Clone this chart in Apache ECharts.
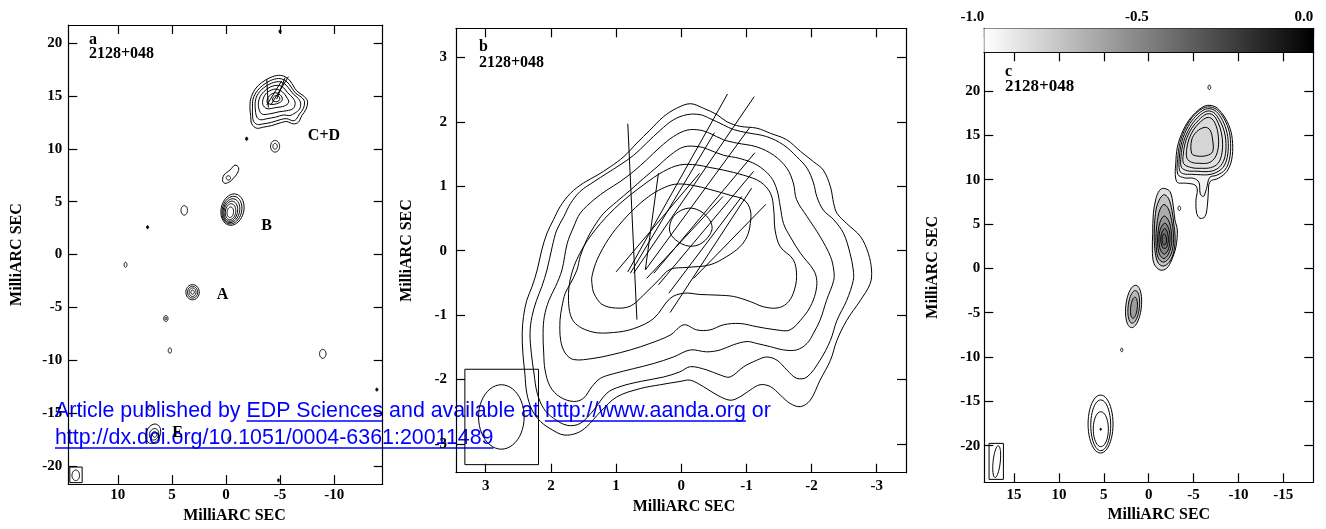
<!DOCTYPE html>
<html><head><meta charset="utf-8">
<script src="https://cdn.jsdelivr.net/npm/echarts@6/dist/echarts.min.js"></script>
<style>html,body{margin:0;padding:0;background:#fff}#c{width:1326px;height:529px}</style>
</head><body><div id="c"></div>
<script>
// ---------------- DATA (data units: milliarcsec) ----------------
const ticksA_x = [10, 5, 0, -5, -10];
const ticksA_y = [20, 15, 10, 5, 0, -5, -10, -15, -20];
const ticksB_x = [3, 2, 1, 0, -1, -2, -3];
const ticksB_y = [3, 2, 1, 0, -1, -2, -3];
const ticksC_x = [15, 10, 5, 0, -5, -10, -15];
const ticksC_y = [20, 15, 10, 5, 0, -5, -10, -15, -20];
const colorbarTicks = [-1, -0.5, 0];
const colorbarRange = [[-1, 0, 0, 1]];

// Panel a: irregular contours (C+D bundle and knot near 7 mas)
const contoursA = [
  [[-2.22,13.76],[-2.28,14.70],[-2.69,15.64],[-3.30,16.26],[-4.07,16.73],[-4.85,16.95],[-5.46,16.82],[-5.93,16.42],[-6.54,15.48],[-7.16,15.01],[-7.53,14.54],[-7.41,13.76],[-7.01,13.14],[-6.70,12.52],[-6.23,12.36],[-5.62,12.58],[-5.00,12.45],[-4.23,12.20],[-3.46,12.05],[-2.84,11.95],[-2.38,12.36],[-2.28,13.14]],
  [[-2.45,13.8],[-2.5,14.7],[-2.9,15.5],[-3.4,16.0],[-4.1,16.45],[-4.85,16.65],[-5.4,16.5],[-5.85,16.1],[-6.4,15.3],[-6.95,14.9],[-7.25,14.5],[-7.15,13.8],[-6.8,13.3],[-6.5,12.8],[-6.2,12.65],[-5.6,12.85],[-5.0,12.75],[-4.2,12.5],[-3.4,12.35],[-2.9,12.3],[-2.55,12.6],[-2.45,13.2]],
  [[-2.7,13.9],[-2.75,14.7],[-3.1,15.4],[-3.6,15.85],[-4.2,16.2],[-4.85,16.35],[-5.35,16.2],[-5.75,15.8],[-6.25,15.15],[-6.7,14.75],[-6.9,14.3],[-6.8,13.75],[-6.4,13.4],[-5.9,13.15],[-5.3,13.2],[-4.6,13.0],[-3.8,12.85],[-3.2,12.75],[-2.85,13.0]],
  [[-3.0,14.0],[-3.1,14.8],[-3.5,15.4],[-4.1,15.85],[-4.8,16.0],[-5.3,15.8],[-5.7,15.3],[-6.2,14.8],[-6.4,14.3],[-6.2,13.8],[-5.6,13.6],[-4.9,13.5],[-4.0,13.3],[-3.3,13.3]],
  [[-3.4,14.2],[-3.5,14.9],[-3.9,15.4],[-4.6,15.65],[-5.2,15.4],[-5.6,14.9],[-5.8,14.4],[-5.4,14.05],[-4.6,13.9],[-3.8,13.8]],
  [[-3.8,14.4],[-4.0,15.0],[-4.6,15.3],[-5.1,15.0],[-5.2,14.6],[-4.8,14.3],[-4.2,14.2]],
  [[-4.3,14.6],[-4.5,15.0],[-4.9,14.95],[-4.95,14.6],[-4.6,14.45]],
  [[0.31,6.96],[0.19,7.52],[-0.37,7.99],[-0.83,8.46],[-1.17,8.21],[-1.05,7.68],[-0.68,7.21],[-0.37,6.90],[0.09,6.74]]
];
// Panel a: compact components [centreX, centreY, semiX, semiY, tiltDeg]
const blobsA = [
  [-4.54,10.24,0.42,0.55,0],[-4.54,10.24,0.2,0.28,0],
  [-0.22,7.25,0.2,0.2,0],
  [-0.6,4.25,1.05,1.5,12],[-0.55,4.2,0.9,1.32,12],[-0.5,4.15,0.76,1.14,12],[-0.45,4.1,0.62,0.96,10],[-0.42,4.05,0.48,0.76,8],[-0.4,4.0,0.3,0.5,6],
  [3.86,4.18,0.3,0.45,0],
  [9.29,-0.97,0.13,0.24,0],
  [3.09,-3.56,0.62,0.72,0],[3.09,-3.56,0.47,0.56,0],[3.09,-3.56,0.32,0.4,0],[3.09,-3.56,0.16,0.2,0],
  [5.56,-6.05,0.2,0.28,0],[5.56,-6.05,0.08,0.12,0],
  [5.19,-9.08,0.15,0.25,0],
  [-8.95,-9.39,0.3,0.42,0],
  [7.04,-14.48,0.2,0.25,0],
  [6.73,-16.95,0.65,0.95,20],[6.65,-17.0,0.42,0.55,15],[6.6,-17.0,0.2,0.28,0],
  [-0.31,-17.45,0.12,0.2,0]
];
const dotsA = [[-5.0,21.1,0.1,0.15,0],[-1.91,10.95,0.1,0.15,0],[7.25,2.59,0.1,0.14,0],[-13.95,-12.77,0.1,0.14,0],[-4.85,-21.35,0.08,0.14,0]];
const vectorsA = [[-3.77,16.57,-3.92,13.92],[-5.77,16.82,-4.14,14.14],[-5.15,16.42,-3.77,14.14],[-5.46,16.73,-4.69,14.70]];
const beamBoxA = [[14.44,-20.1,13.30,-21.57]];
const beamA = [[13.89,-20.88,0.35,0.5,0]];
const labelsA = [["C+D",-9.06,11.18],["B",-3.76,2.76],["A",0.32,-3.79],["E",4.48,-16.89]];

// Panel b: contours, outermost first
const contoursB = [
  [[-0.14,2.28],[-0.34,2.21],[-0.55,2.11],[-0.70,2.00],[-0.90,1.93],[-1.16,1.90],[-1.37,1.82],[-1.62,1.72],[-1.83,1.54],[-2.03,1.38],[-2.18,1.25],[-2.29,0.99],[-2.34,0.73],[-2.39,0.58],[-2.54,0.42],[-2.75,0.22],[-2.87,-0.04],[-2.92,-0.30],[-2.90,-0.51],[-2.75,-0.77],[-2.54,-1.08],[-2.39,-1.39],[-2.29,-1.70],[-2.13,-2.01],[-1.98,-2.32],[-1.83,-2.42],[-1.67,-2.37],[-1.52,-2.24],[-1.37,-2.11],[-1.21,-2.08],[-1.06,-2.16],[-0.90,-2.27],[-0.75,-2.32],[-0.55,-2.24],[-0.34,-2.11],[-0.14,-2.01],[0.02,-2.03],[0.32,-2.08],[0.63,-2.14],[0.99,-2.27],[1.24,-2.50],[1.45,-2.73],[1.60,-2.83],[1.80,-2.86],[1.98,-2.78],[2.16,-2.65],[2.29,-2.47],[2.37,-2.21],[2.40,-1.90],[2.43,-1.59],[2.44,-1.28],[2.42,-1.02],[2.37,-0.77],[2.29,-0.56],[2.21,-0.30],[2.14,0.01],[2.06,0.27],[1.96,0.48],[1.86,0.68],[1.70,0.89],[1.50,1.05],[1.29,1.17],[1.09,1.30],[0.88,1.46],[0.68,1.67],[0.48,1.87],[0.27,2.08],[0.07,2.21]],
  [[-0.09,2.11],[-0.29,2.11],[-0.44,2.05],[-0.65,1.95],[-0.80,1.88],[-1.01,1.83],[-1.31,1.77],[-1.57,1.64],[-1.77,1.46],[-1.93,1.28],[-2.03,1.05],[-2.08,0.84],[-2.18,0.63],[-2.34,0.48],[-2.49,0.27],[-2.59,-0.04],[-2.64,-0.30],[-2.64,-0.46],[-2.54,-0.77],[-2.39,-1.08],[-2.29,-1.39],[-2.13,-1.70],[-1.93,-1.96],[-1.77,-1.98],[-1.62,-1.85],[-1.47,-1.70],[-1.31,-1.65],[-1.16,-1.70],[-0.96,-1.80],[-0.75,-1.96],[-0.60,-1.93],[-0.39,-1.85],[-0.14,-1.80],[0.02,-1.88],[0.27,-1.96],[0.63,-2.03],[0.94,-2.11],[1.14,-2.21],[1.34,-2.47],[1.55,-2.68],[1.75,-2.71],[1.96,-2.60],[2.11,-2.45],[2.21,-2.21],[2.26,-1.90],[2.30,-1.59],[2.32,-1.28],[2.29,-1.02],[2.22,-0.77],[2.14,-0.56],[2.06,-0.30],[1.98,0.06],[1.91,0.32],[1.80,0.53],[1.70,0.73],[1.55,0.92],[1.34,1.07],[1.14,1.20],[0.94,1.33],[0.73,1.48],[0.53,1.67],[0.32,1.87],[0.12,2.03]],
  [[-0.09,1.87],[-0.29,1.87],[-0.44,1.82],[-0.65,1.72],[-0.85,1.67],[-1.16,1.61],[-1.42,1.48],[-1.62,1.28],[-1.72,1.05],[-1.77,0.79],[-1.93,0.53],[-2.13,0.22],[-2.29,-0.09],[-2.34,-0.30],[-2.34,-0.46],[-2.23,-0.77],[-2.13,-1.08],[-2.03,-1.28],[-1.93,-1.44],[-1.77,-1.54],[-1.57,-1.54],[-1.37,-1.49],[-1.16,-1.44],[-1.01,-1.41],[-0.80,-1.46],[-0.60,-1.54],[-0.39,-1.57],[-0.14,-1.54],[0.12,-1.65],[0.42,-1.75],[0.73,-1.83],[1.04,-1.91],[1.24,-1.98],[1.37,-2.11],[1.50,-2.29],[1.65,-2.34],[1.86,-2.27],[2.01,-2.11],[2.09,-1.85],[2.11,-1.59],[2.12,-1.28],[2.10,-1.02],[2.03,-0.77],[1.93,-0.56],[1.83,-0.30],[1.75,0.11],[1.65,0.37],[1.55,0.58],[1.34,0.79],[1.14,0.94],[0.94,1.07],[0.73,1.23],[0.53,1.41],[0.32,1.61],[0.12,1.77]],
  [[-0.04,1.61],[-0.29,1.61],[-0.44,1.56],[-0.65,1.48],[-0.90,1.43],[-1.16,1.33],[-1.37,1.15],[-1.47,0.94],[-1.52,0.68],[-1.57,0.42],[-1.67,0.22],[-1.83,-0.04],[-2.03,-0.30],[-2.08,-0.46],[-2.06,-0.66],[-1.98,-0.87],[-1.88,-1.02],[-1.67,-1.23],[-1.47,-1.23],[-1.16,-1.18],[-0.90,-1.13],[-0.65,-1.15],[-0.44,-1.23],[-0.24,-1.23],[-0.04,-1.15],[0.17,-1.31],[0.48,-1.44],[0.78,-1.54],[1.09,-1.62],[1.34,-1.67],[1.65,-1.69],[1.78,-1.59],[1.85,-1.39],[1.86,-1.08],[1.83,-0.87],[1.78,-0.66],[1.70,-0.51],[1.60,-0.30],[1.55,-0.09],[1.45,0.17],[1.34,0.37],[1.19,0.58],[0.99,0.76],[0.78,0.94],[0.58,1.12],[0.37,1.30],[0.17,1.48]],
  [[0.02,1.33],[-0.24,1.33],[-0.44,1.29],[-0.65,1.25],[-0.96,1.17],[-1.21,1.07],[-1.37,0.89],[-1.42,0.63],[-1.44,0.32],[-1.52,0.06],[-1.72,-0.14],[-1.77,-0.40],[-1.72,-0.66],[-1.62,-0.82],[-1.47,-0.89],[-1.26,-0.87],[-1.06,-0.79],[-0.80,-0.71],[-0.55,-0.69],[-0.29,-0.68],[-0.04,-0.66],[0.17,-0.74],[0.42,-1.05],[0.73,-1.21],[1.04,-1.27],[1.37,-1.26],[1.65,-1.10],[1.73,-0.77],[1.68,-0.35],[1.50,0.06],[1.24,0.42],[0.94,0.73],[0.58,1.02],[0.27,1.23]],
  [[1.37,-0.51],[1.34,-0.66],[1.22,-0.83],[1.01,-0.89],[0.78,-0.86],[0.58,-0.69],[0.35,-0.46],[0.17,-0.29],[-0.09,-0.26],[-0.44,-0.22],[-0.70,-0.09],[-0.90,0.06],[-1.01,0.22],[-1.06,0.42],[-1.06,0.63],[-0.96,0.79],[-0.75,0.86],[-0.44,0.95],[-0.14,1.02],[0.10,1.03],[0.30,0.96],[0.50,0.84],[0.70,0.67],[0.90,0.46],[1.11,0.19],[1.29,-0.14],[1.37,-0.40]],
  [[0.18,0.32],[0.12,0.53],[-0.06,0.65],[-0.24,0.64],[-0.42,0.50],[-0.47,0.32],[-0.32,0.12],[-0.12,0.07],[0.09,0.17]]
];
const vectorsB = [
  [0.82,1.97,0.68,-1.07],[-0.71,2.43,0.82,-0.33],[-1.12,2.39,0.73,-0.35],[-0.51,1.83,0.78,-0.35],
  [-1.05,1.91,0.55,-0.30],[-1.13,1.52,0.42,-0.35],[-1.11,1.23,0.35,-0.53],[-1.08,0.97,0.17,-0.96],
  [-1.30,0.72,-0.19,-0.43],[-0.64,0.84,0.53,-0.43],[0.35,1.20,0.55,-0.29],[-0.28,1.20,1.00,-0.33],
  [-0.93,0.84,0.19,-0.66]
];
const beamBoxB = [[3.32,-1.84,2.19,-3.32]];
const beamB = [[2.76,-2.58,0.35,0.50,0]];

// Panel c: contours (C+D outermost first, then B outermost first)
const contoursC_CD = [
  [[-3.12,9.77],[-3.04,12.22],[-3.30,14.10],[-4.05,15.98],[-4.97,17.29],[-6.27,18.31],[-7.39,18.23],[-8.31,17.29],[-9.06,15.79],[-9.35,14.10],[-9.24,12.22],[-8.69,10.90],[-7.76,10.15],[-6.83,9.77],[-6.64,8.46],[-6.53,6.95],[-6.27,5.83],[-5.72,5.64],[-5.35,6.20],[-5.27,7.71],[-5.42,8.83],[-5.16,9.40],[-4.23,9.59]],
  [[-3.25,10.6],[-3.23,12.3],[-3.5,14.2],[-4.2,16.0],[-5.1,17.3],[-6.3,18.15],[-7.35,18.05],[-8.2,17.2],[-8.9,15.7],[-9.13,14.1],[-9.0,12.3],[-8.5,11.1],[-7.6,10.5],[-6.8,10.25],[-6.45,9.0],[-6.1,8.1],[-5.75,8.4],[-5.6,9.7],[-5.0,10.15],[-4.0,10.2]],
  [[-3.45,11.0],[-3.41,12.4],[-3.7,14.3],[-4.4,16.0],[-5.25,17.15],[-6.35,17.95],[-7.3,17.85],[-8.05,17.0],[-8.65,15.6],[-8.87,14.1],[-8.75,12.5],[-8.3,11.4],[-7.5,10.8],[-6.6,10.55],[-5.8,10.55],[-4.8,10.6],[-3.9,10.65]],
  [[-3.65,11.4],[-3.6,12.6],[-3.9,14.3],[-4.6,15.9],[-5.4,16.95],[-6.4,17.7],[-7.2,17.6],[-7.85,16.8],[-8.4,15.5],[-8.61,14.1],[-8.5,12.6],[-8.05,11.6],[-7.3,11.05],[-6.4,10.9],[-5.4,10.95],[-4.3,11.0]],
  [[-3.9,11.8],[-3.86,12.9],[-4.15,14.4],[-4.8,15.8],[-5.6,16.75],[-6.45,17.4],[-7.15,17.3],[-7.7,16.5],[-8.1,15.3],[-8.24,14.0],[-8.1,12.7],[-7.7,11.8],[-6.9,11.35],[-5.9,11.28],[-4.8,11.35]],
  [[-4.27,12.4],[-4.23,13.4],[-4.5,14.6],[-5.05,15.7],[-5.75,16.5],[-6.5,17.0],[-7.05,16.85],[-7.5,16.1],[-7.76,14.9],[-7.75,13.6],[-7.4,12.5],[-6.7,11.9],[-5.7,11.84],[-4.8,11.95]],
  [[-4.79,12.97],[-4.79,14.47],[-5.35,15.41],[-6.27,15.90],[-6.83,15.60],[-7.13,14.47],[-7.13,13.16],[-6.46,12.71],[-5.35,12.67]]
];
const contoursC_B = [
  [[-1.63,9.02],[-2.38,8.65],[-2.75,6.95],[-2.93,5.45],[-3.19,4.32],[-3.04,2.44],[-2.56,0.94],[-2.00,0.00],[-1.26,-0.19],[-0.59,0.56],[-0.41,2.07],[-0.45,3.95],[-0.52,6.20],[-0.82,7.89],[-1.19,8.76]],
  [[-1.65,8.3],[-2.2,7.9],[-2.6,6.5],[-2.8,5.0],[-2.95,3.5],[-2.8,1.9],[-2.3,0.7],[-1.6,0.25],[-1.0,0.7],[-0.68,2.2],[-0.62,4.0],[-0.72,5.8],[-1.0,7.3]],
  [[-1.7,7.2],[-2.2,6.7],[-2.55,5.4],[-2.75,4.0],[-2.72,2.5],[-2.35,1.3],[-1.7,0.7],[-1.1,1.1],[-0.85,2.3],[-0.82,3.9],[-0.98,5.4],[-1.25,6.6]],
  [[-1.75,5.9],[-2.25,5.3],[-2.52,4.1],[-2.55,2.8],[-2.2,1.6],[-1.7,1.1],[-1.2,1.6],[-1.0,2.8],[-1.05,4.1],[-1.3,5.3]],
  [[-1.8,5.1],[-2.22,4.5],[-2.38,3.4],[-2.22,2.2],[-1.75,1.6],[-1.3,2.1],[-1.15,3.2],[-1.3,4.4]],
  [[-1.8,4.5],[-2.12,3.9],[-2.18,3.0],[-1.95,2.3],[-1.6,2.3],[-1.36,3.0],[-1.42,3.9]],
  [[-1.72,3.9],[-1.97,3.45],[-1.93,2.8],[-1.68,2.65],[-1.5,3.05],[-1.52,3.6]]
];
const blobsC_A = [[1.68,-4.3,0.87,2.4,6],[1.66,-4.35,0.63,1.85,6],[1.64,-4.45,0.37,1.2,6]];
const blobsC_E = [[5.36,-17.56,1.39,3.27,0],[5.34,-17.7,1.11,2.86,0],[5.33,-18.14,0.84,1.97,0]];
const blobsC_small = [[-6.76,20.41,0.15,0.25,0],[-3.41,6.77,0.15,0.25,0],[3.0,-9.2,0.12,0.2,0]];
const dotsC = [[5.34,-18.15,0.07,0.12,0]];
const beamBoxC = [[17.78,-19.74,16.18,-23.8]];
const beamC = [[16.93,-21.8,0.4,1.8,6]];

// ---------------- RENDERING ----------------
const SERIF = "'Liberation Serif','Times New Roman',Times,serif";
const SANS = "'Liberation Sans',Arial,Helvetica,sans-serif";

function xAxes(grid, min, max, ticks, labelMargin, nameGap, padLeft) {
  const line = {show:true, onZero:false, lineStyle:{color:'#000', width:1.2}};
  const tick = {show:true, inside:true, length:9, customValues:ticks, lineStyle:{color:'#000', width:1.2}};
  return [
    {gridIndex:grid, type:'value', min, max, inverse:true, position:'bottom', axisLine:line, axisTick:tick, splitLine:{show:false},
     axisLabel:{customValues:ticks, color:'#000', fontFamily:SERIF, fontWeight:'bold', fontSize:15, margin:labelMargin},
     name:'MilliARC SEC', nameLocation:'middle', nameGap,
     nameTextStyle:{color:'#000', fontFamily:SERIF, fontWeight:'bold', fontSize:16, padding:[0,0,0,padLeft]}},
    {gridIndex:grid, type:'value', min, max, inverse:true, position:'top', axisLine:line, axisTick:tick, axisLabel:{show:false}, splitLine:{show:false}}
  ];
}
function yAxes(grid, min, max, ticks, labelMargin, nameGap) {
  const line = {show:true, onZero:false, lineStyle:{color:'#000', width:1.2}};
  const tick = {show:true, inside:true, length:9, customValues:ticks, lineStyle:{color:'#000', width:1.2}};
  return [
    {gridIndex:grid, type:'value', min, max, position:'left', axisLine:line, axisTick:tick, splitLine:{show:false},
     axisLabel:{customValues:ticks, color:'#000', fontFamily:SERIF, fontWeight:'bold', fontSize:15, margin:labelMargin},
     name:'MilliARC SEC', nameLocation:'middle', nameGap, nameRotate:90,
     nameTextStyle:{color:'#000', fontFamily:SERIF, fontWeight:'bold', fontSize:16}},
    {gridIndex:grid, type:'value', min, max, position:'right', axisLine:line, axisTick:tick, axisLabel:{show:false}, splitLine:{show:false}}
  ];
}

function base(xi, yi) { return {type:'custom', xAxisIndex:xi, yAxisIndex:yi, silent:true, animation:false, clip:true}; }

function polySeries(xi, yi, list, fill) {
  return Object.assign(base(xi, yi), {
    data: list.map((c, i) => [c[0][0], c[0][1], i]),
    renderItem: (params, api) => {
      const c = list[api.value(2)];
      return {type:'polygon', shape:{points:c.map(p => api.coord(p)), smooth:0.35},
              style:{fill: fill || 'none', stroke:'#000', lineWidth:1}};
    }
  });
}
function ellSeries(xi, yi, list, fill, noStroke) {
  return Object.assign(base(xi, yi), {
    data: list.map((e, i) => [e[0], e[1], i]),
    renderItem: (params, api) => {
      const e = list[api.value(2)];
      const a = e[4] * Math.PI / 180, pts = [];
      for (let k = 0; k < 48; k++) {
        const t = k / 48 * 2 * Math.PI, dx = e[2] * Math.cos(t), dy = e[3] * Math.sin(t);
        pts.push(api.coord([e[0] + dx * Math.cos(a) - dy * Math.sin(a), e[1] + dx * Math.sin(a) + dy * Math.cos(a)]));
      }
      return {type:'polygon', shape:{points:pts},
              style:{fill: fill || 'none', stroke: noStroke ? null : '#000', lineWidth:1}};
    }
  });
}
function vecSeries(xi, yi, list) {
  return Object.assign(base(xi, yi), {
    data: list, encode:{x:[0,2], y:[1,3]},
    renderItem: (params, api) => {
      const p1 = api.coord([api.value(0), api.value(1)]), p2 = api.coord([api.value(2), api.value(3)]);
      return {type:'line', shape:{x1:p1[0], y1:p1[1], x2:p2[0], y2:p2[1]}, style:{stroke:'#000', lineWidth:1}};
    }
  });
}
function boxSeries(xi, yi, list) {
  return Object.assign(base(xi, yi), {
    data: list, encode:{x:[0,2], y:[1,3]}, clip:false,
    renderItem: (params, api) => {
      const x1 = api.value(0), y1 = api.value(1), x2 = api.value(2), y2 = api.value(3);
      const pts = [[x1,y1],[x2,y1],[x2,y2],[x1,y2]].map(p => api.coord(p));
      return {type:'polygon', shape:{points:pts}, style:{fill:'none', stroke:'#000', lineWidth:1}};
    }
  });
}
function textSeries(xi, yi, list) {
  return Object.assign(base(xi, yi), {
    data: list.map((l, i) => [l[1], l[2], i]),
    renderItem: (params, api) => {
      const p = api.coord([api.value(0), api.value(1)]);
      return {type:'text', x:p[0], y:p[1], style:{text:list[api.value(2)][0], fill:'#000',
              font:"bold 16px " + SERIF, align:'center', verticalAlign:'middle'}};
    }
  });
}

const xAxis = [].concat(
  xAxes(0, -14.49, 14.58, ticksA_x, 4, 18, 18),
  xAxes(1, -3.449, 3.456, ticksB_x, 6, 22, 6),
  xAxes(2, -18.34, 18.31, ticksC_x, 5, 20, 20),
  [
    {gridIndex:3, type:'value', min:-1, max:0, position:'top',
     axisLine:{show:true, onZero:false, lineStyle:{color:'#000', width:1.2}},
     axisTick:{show:true, inside:true, length:10, customValues:colorbarTicks, lineStyle:{color:'#000', width:1.2}},
     axisLabel:{customValues:colorbarTicks, formatter:v => (Math.abs(v) < 1e-9 ? 0 : v).toFixed(1), align:'right',
                color:'#000', fontFamily:SERIF, fontWeight:'bold', fontSize:15, margin:4},
     splitLine:{show:false}},
    {gridIndex:3, type:'value', min:-1, max:0, position:'bottom',
     axisLine:{show:true, onZero:false, lineStyle:{color:'#000', width:1.2}}, axisTick:{show:false}, axisLabel:{show:false}, splitLine:{show:false}}
  ]
);
const yAxis = [].concat(
  yAxes(0, -21.71, 21.71, ticksA_y, 6, 43),
  yAxes(1, -3.445, 3.45, ticksB_y, 9, 41),
  yAxes(2, -24.13, 24.36, ticksC_y, 4, 43),
  [
    {gridIndex:3, type:'value', min:0, max:1, position:'left', axisLine:{show:true, onZero:false, lineStyle:{color:'#000', width:1.2}},
     axisTick:{show:false}, axisLabel:{show:false}, splitLine:{show:false}},
    {gridIndex:3, type:'value', min:0, max:1, position:'right', axisLine:{show:true, onZero:false, lineStyle:{color:'#000', width:1.2}},
     axisTick:{show:false}, axisLabel:{show:false}, splitLine:{show:false}}
  ]
);

const series = [
  // panel a
  polySeries(0, 0, contoursA),
  ellSeries(0, 0, blobsA),
  ellSeries(0, 0, dotsA, '#000'),
  vecSeries(0, 0, vectorsA),
  boxSeries(0, 0, beamBoxA),
  ellSeries(0, 0, beamA),
  textSeries(0, 0, labelsA),
  // panel b
  polySeries(2, 2, contoursB),
  vecSeries(2, 2, vectorsB),
  boxSeries(2, 2, beamBoxB),
  ellSeries(2, 2, beamB),
  // panel c
  polySeries(4, 4, contoursC_CD, 'rgba(0,0,0,0.024)'),
  polySeries(4, 4, contoursC_B, 'rgba(0,0,0,0.12)'),
  ellSeries(4, 4, blobsC_A, 'rgba(0,0,0,0.15)'),
  ellSeries(4, 4, blobsC_E),
  ellSeries(4, 4, blobsC_small),
  ellSeries(4, 4, dotsC, '#000'),
  boxSeries(4, 4, beamBoxC),
  ellSeries(4, 4, beamC),
  // colour bar
  Object.assign(base(6, 6), {
    data: colorbarRange, encode:{x:[0,1], y:[2,3]},
    renderItem: (params, api) => {
      const p1 = api.coord([api.value(0), api.value(3)]), p2 = api.coord([api.value(1), api.value(2)]);
      return {type:'rect', shape:{x:p1[0], y:p1[1], width:p2[0]-p1[0], height:p2[1]-p1[1]},
              style:{fill:{type:'linear', x:0, y:0, x2:1, y2:0,
                           colorStops:[{offset:0, color:'#ffffff'}, {offset:1, color:'#000000'}]}}};
    }
  })
];

// Panel annotations and overlay link text
const graphic = [];
function addText(text, x, y, font, fill) {
  graphic.push({type:'text', x, y, silent:true, style:{text, font, fill:fill || '#000', align:'left', verticalAlign:'middle'}});
}
addText('a', 89, 40, 'bold 16px ' + SERIF);
addText('2128+048', 89, 54, 'bold 16px ' + SERIF);
addText('b', 479, 46.5, 'bold 16px ' + SERIF);
addText('2128+048', 479, 63, 'bold 16px ' + SERIF);
addText('c', 1005, 71.5, 'bold 16px ' + SERIF);
addText('2128+048', 1005, 87, 'bold 17px ' + SERIF);

const linkFont = '21.4px ' + SANS;
const meas = document.createElement('canvas').getContext('2d');
meas.font = linkFont;
const linkLines = [
  {y:419, parts:[['Article published by ', false], ['EDP Sciences', true], [' and available at ', false], ['http://www.aanda.org', true], [' or', false]]},
  {y:446, parts:[['http://dx.doi.org/10.1051/0004-6361:20011489', true]]}
];
linkLines.forEach(line => {
  let x = 55;
  line.parts.forEach(([t, ul]) => {
    const w = meas.measureText(t).width;
    addText(t, x, line.y - 7.4, linkFont, '#0000ff');
    if (ul) graphic.push({type:'line', silent:true, shape:{x1:x, y1:line.y + 2, x2:x + w, y2:line.y + 2}, style:{stroke:'#0000ff', lineWidth:1.3}});
    x += w;
  });
});

const chart = echarts.init(document.getElementById('c'), null, {renderer:'canvas'});
chart.setOption({
  animation:false,
  backgroundColor:'#fff',
  grid:[
    {left:68.3, top:25, width:314.4, height:464},
    {left:456, top:28.3, width:450, height:444.4},
    {left:984.3, top:52.3, width:329, height:430},
    {left:984.3, top:28.3, width:329, height:24}
  ],
  xAxis, yAxis, series, graphic
});
</script></body></html>
